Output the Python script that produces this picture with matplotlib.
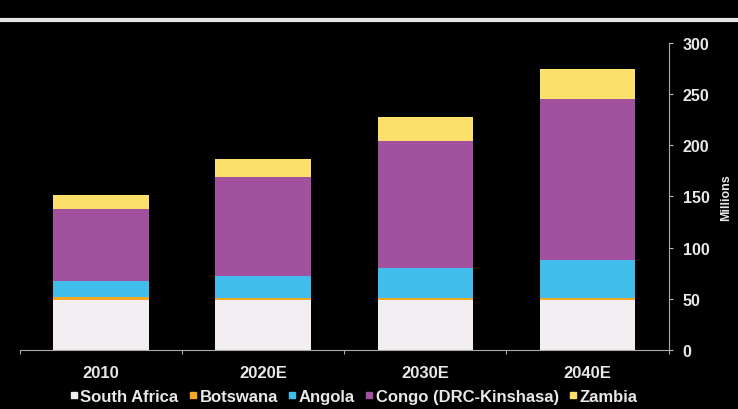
import numpy as np
import matplotlib
matplotlib.use('Agg')
import matplotlib.pyplot as plt
from matplotlib.lines import Line2D

# population by country, millions
years = ['2010', '2020E', '2030E', '2040E']
south_africa = [49, 48.5, 48.5, 48.5]
botswana = [2.5, 2.5, 2.5, 2.5]
angola = [16, 21, 29, 37]
congo = [70, 97, 124, 157]
zambia = [14, 18, 24, 29]

series = ['South Africa', 'Botswana', 'Angola', 'Congo (DRC-Kinshasa)', 'Zambia']
colors = ['#F2EEF1', '#F5A623', '#40BDEA', '#A2519F', '#FBE16C']
yticks = [0, 50, 100, 150, 200, 250, 300]

plt.rcParams['font.family'] = ['Liberation Sans', 'DejaVu Sans']
plt.rcParams['font.weight'] = 'bold'

fig = plt.figure(figsize=(7.38, 4.10), dpi=100, facecolor='black')
ax = fig.add_axes([0.027, 0.144, 0.879, 0.749], facecolor='black')

# header rule left over from the slide
fig.add_artist(Line2D([0, 1], [0.950, 0.950], color='#E4E4E4', lw=3,
                      transform=fig.transFigure))

x = np.arange(len(years))
bottom = np.zeros(len(years))
for name, vals, c in zip(series, [south_africa, botswana, angola, congo, zambia], colors):
    ax.bar(x, vals, width=0.59, bottom=bottom, color=c, label=name, linewidth=0)
    bottom += np.array(vals)

ax.set_xlim(-0.5, 3.5)
ax.set_ylim(0, 300)

ax.yaxis.tick_right()
ax.yaxis.set_label_position('right')
ax.set_yticks(yticks)
ax.set_yticklabels([str(t) for t in yticks], color='#E8E8E8', fontsize=11.5, fontweight='bold')
ax.set_ylabel('Millions', color='#E8E8E8', fontsize=9, fontweight='bold', labelpad=8)
ax.tick_params(axis='y', colors='#BBBBBB', length=3, width=0.8, labelcolor='#E8E8E8', pad=7)

ax.set_xticks(x)
ax.set_xticklabels(years, color='#E8E8E8', fontsize=12, fontweight='bold')
ax.set_xticks(np.arange(-0.5, 4, 1), minor=True)
ax.tick_params(axis='x', which='major', length=0, pad=11)
ax.tick_params(axis='x', which='minor', length=3, color='#AAAAAA', width=0.8)

for side in ['top', 'left']:
    ax.spines[side].set_visible(False)
ax.spines['bottom'].set_color('#AAAAAA')
ax.spines['right'].set_color('#AAAAAA')

handles = [Line2D([], [], marker='s', ls='', color=c, markersize=4.5) for c in colors]
leg = fig.legend(handles, series, loc='center', bbox_to_anchor=(0.478, 0.031), ncol=5,
                 frameon=False, fontsize=12, handletextpad=0.05, columnspacing=0.5,
                 handlelength=0.7, borderpad=0)
for t in leg.get_texts():
    t.set_color('#E8E8E8')
    t.set_fontweight('bold')

plt.savefig('out.png', dpi=100, facecolor='black')
